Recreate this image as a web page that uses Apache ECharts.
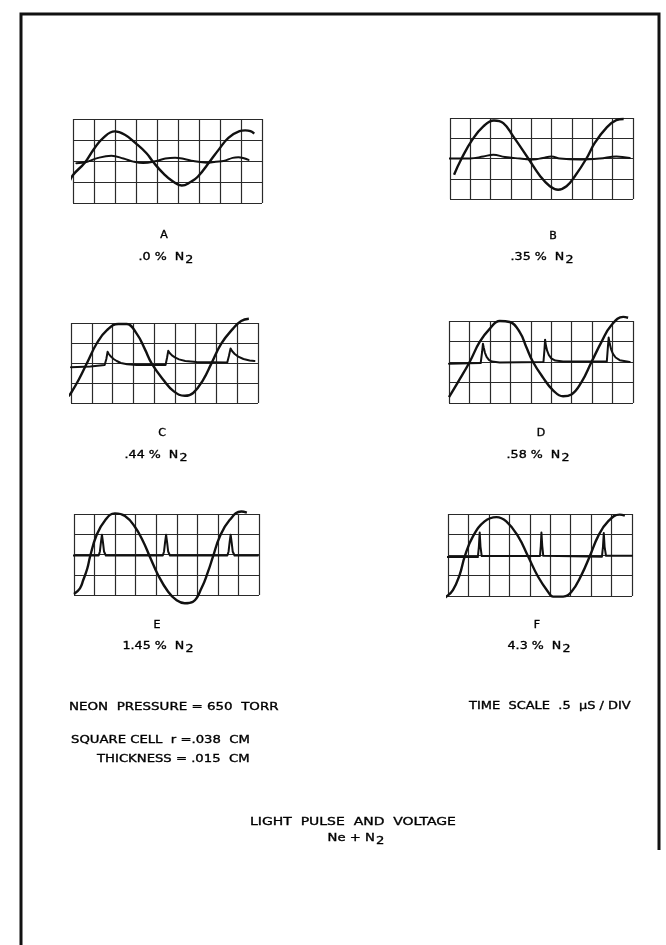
<!DOCTYPE html>
<html><head><meta charset="utf-8">
<script src="https://cdn.jsdelivr.net/npm/echarts@6/dist/echarts.min.js"></script>
<style>html,body{margin:0;padding:0;background:#fff}#c{width:666px;height:945px}</style>
</head><body><div id="c"></div>
<script>
// Panel identifiers and gas concentrations
const panelLetters = ['A','B','C','D','E','F'];
const panelGas = ['.0 %', '.35 %', '.44 %', '.58 %', '1.45 %', '4.3 %'];

// Voltage traces (x in divisions 0..9, y in divisions -2..2)
const voltA = [[-0.19,-1.04],[0,-0.67],[0.56,-0.08],[0.99,0.56],[1.43,1.09],[1.99,1.41],[2.47,1.25],[2.98,0.85],[3.5,0.37],[3.82,-0.05],[4.3,-0.59],[4.78,-0.99],[5.18,-1.17],[5.6,-1.0],[5.94,-0.75],[6.53,0],[6.93,0.53],[7.4,1.1],[7.93,1.42],[8.2,1.46],[8.45,1.42],[8.63,1.3]];
const lightA = [[0.16,-0.11],[0.64,-0.05],[1.2,0.15],[1.83,0.25],[2.4,0.12],[2.87,-0.03],[3.34,-0.1],[3.98,0],[4.4,0.12],[4.86,0.16],[5.3,0.1],[5.73,0],[6.37,-0.08],[6.8,-0.03],[7.17,0],[7.6,0.15],[7.88,0.18],[8.36,0.05]];

const voltB = [[0.2,-0.8],[0.57,0],[1.1,0.93],[1.64,1.59],[2.16,1.88],[2.62,1.75],[3.11,1.09],[3.85,0],[4.42,-0.85],[4.91,-1.37],[5.32,-1.54],[5.73,-1.37],[6.14,-0.88],[6.71,0],[7.12,0.77],[7.69,1.51],[8.18,1.89],[8.54,1.95]];
const lightB = [[-0.16,0],[0.98,0],[1.64,0.1],[2.13,0.19],[2.7,0.07],[3.44,0],[4.09,-0.05],[4.58,0.03],[4.99,0.1],[5.4,0],[6.38,-0.05],[7.37,0],[8.18,0.1],[8.84,0.02]];

const voltC = [[-0.16,-1.7],[0,-1.5],[0.37,-0.84],[0.77,0],[1.25,1.0],[1.73,1.64],[2.28,1.95],[2.68,1.95],[3.16,1.47],[3.56,0.68],[3.88,-0.02],[4.44,-0.84],[4.95,-1.42],[5.48,-1.64],[5.88,-1.5],[6.36,-0.84],[6.76,-0.02],[7.24,0.98],[7.8,1.72],[8.19,2.1],[8.56,2.21]];
const lightC = [[0,-0.21],[0.93,-0.18],[1.62,-0.1],[1.7,0.2],[1.76,0.56],[1.82,0.45],[1.92,0.32],[2.05,0.2],[2.2,0.1],[2.4,0.0],[2.7,-0.06],[3.16,-0.1],[4.55,-0.1],[4.62,0.25],[4.68,0.61],[4.75,0.5],[4.86,0.38],[5.0,0.28],[5.2,0.18],[5.5,0.1],[6.04,0.05],[7.52,0.02],[7.6,0.35],[7.68,0.73],[7.75,0.6],[7.88,0.45],[8.05,0.32],[8.3,0.2],[8.6,0.13],[8.83,0.1]];

const voltD = [[0,-1.71],[0.44,-0.98],[1.01,0],[1.5,0.98],[2.0,1.63],[2.48,2.0],[2.97,1.95],[3.46,1.46],[3.78,0.73],[4.11,0],[4.6,-0.76],[5.09,-1.38],[5.58,-1.67],[5.99,-1.58],[6.48,-0.98],[6.97,0],[7.46,0.98],[7.94,1.79],[8.52,2.2],[8.76,2.16]];
const lightD = [[0,-0.08],[1.55,-0.05],[1.62,0.5],[1.66,0.89],[1.7,0.7],[1.76,0.45],[1.84,0.25],[1.95,0.1],[2.1,0.02],[2.48,-0.02],[4.62,0],[4.67,0.6],[4.7,1.09],[4.74,0.8],[4.8,0.55],[4.88,0.35],[5.0,0.18],[5.2,0.07],[5.58,0.02],[7.72,0.03],[7.77,0.7],[7.81,1.19],[7.86,0.9],[7.93,0.62],[8.02,0.4],[8.15,0.22],[8.35,0.09],[8.84,0]];

const voltE = [[0,-1.95],[0.29,-1.67],[0.45,-1.26],[0.65,-0.68],[0.78,-0.11],[1.1,0.96],[1.5,1.67],[1.99,2.03],[2.48,1.9],[2.96,1.37],[3.37,0.63],[3.69,-0.11],[4.09,-1.01],[4.58,-1.84],[4.98,-2.25],[5.39,-2.41],[5.79,-2.33],[6.2,-1.67],[6.52,-0.85],[6.76,-0.11],[7.09,0.88],[7.57,1.7],[8.14,2.12],[8.41,2.07]];
const lightE = [[-0.92,-0.05],[1.2,-0.05],[1.26,0.15],[1.31,0.6],[1.36,0.98],[1.41,0.6],[1.46,0.15],[1.55,-0.05],[4.32,-0.05],[4.38,0.15],[4.43,0.6],[4.48,0.98],[4.53,0.6],[4.58,0.15],[4.67,-0.05],[7.46,-0.05],[7.52,0.15],[7.57,0.6],[7.62,0.98],[7.67,0.6],[7.72,0.15],[7.81,-0.05],[8.95,-0.05]];

const voltF = [[-0.38,-2.2],[-0.08,-2.03],[0.24,-1.71],[0.57,-0.97],[0.82,-0.07],[1.22,0.91],[1.79,1.64],[2.37,1.85],[2.85,1.64],[3.43,0.91],[3.92,-0.07],[4.4,-1.05],[4.89,-1.79],[5.14,-2.03],[5.63,-2.03],[6.04,-1.79],[6.53,-0.97],[6.93,-0.07],[7.34,0.91],[7.83,1.64],[8.4,1.97],[8.65,1.92]];
const lightF = [[-0.82,-0.1],[1.46,-0.1],[1.51,0.4],[1.55,1.1],[1.59,0.4],[1.65,-0.05],[4.5,-0.05],[4.54,0.45],[4.57,1.1],[4.61,0.45],[4.66,-0.04],[7.53,-0.08],[7.58,0.4],[7.62,1.07],[7.66,0.4],[7.73,-0.04],[9.0,-0.04]];

const voltages = [voltA, voltB, voltC, voltD, voltE, voltF];
const lights = [lightA, lightB, lightC, lightD, lightE, lightF];

// Axis ranges (grid divisions)
const xDivs = [0, 9];
const yDivs = [-2, 2];

// Layout
const boxes = [
  {left:73, top:119, width:189, height:84},
  {left:450, top:118, width:183, height:81},
  {left:71, top:323, width:187, height:80},
  {left:449, top:321, width:184, height:82},
  {left:74, top:514, width:185, height:81},
  {left:448, top:514, width:184, height:82}
];
const letterPos = [[164,235],[553,236],[162,433],[541,433],[157,625],[537,625]];
const gasPos = [[166,257],[542,257],[156,455],[538,455],[158,646],[539,646]];

const FONT = 'DejaVu Sans';
const INK = '#111';

const grids = [], xAxes = [], yAxes = [], series = [];
boxes.forEach((b, i) => {
  grids.push({left:b.left, top:b.top, width:b.width, height:b.height, show:false, containLabel:false});
  const sl = {show:true, showMinLine:true, showMaxLine:true, lineStyle:{color:'#2a2a2a', width:1.2}};
  xAxes.push({type:'value', gridIndex:i, min:xDivs[0], max:xDivs[1], interval:1,
    axisLine:{show:false}, axisTick:{show:false}, axisLabel:{show:false}, splitLine:sl});
  yAxes.push({type:'value', gridIndex:i, min:yDivs[0], max:yDivs[1], interval:1,
    axisLine:{show:false}, axisTick:{show:false}, axisLabel:{show:false}, splitLine:sl});
  series.push({type:'line', xAxisIndex:i, yAxisIndex:i, data:voltages[i], smooth:0.45,
    showSymbol:false, clip:false, lineStyle:{color:INK, width:2.4}, silent:true, animation:false});
  series.push({type:'line', xAxisIndex:i, yAxisIndex:i, data:lights[i], smooth:i<2?0.4:false,
    showSymbol:false, clip:false, lineStyle:{color:INK, width:2, join:'round', cap:'round'}, silent:true, animation:false});
});

function txt(s, x, y, align, size, sx, rich) {
  const st = {text:s, x:0, y:0, fill:'#000', stroke:'#000', lineWidth:0.35,
    font:size+'px "'+FONT+'"', fontFamily:FONT, fontSize:size,
    textAlign:align, textVerticalAlign:'middle', verticalAlign:'middle', align:align};
  if (rich) st.rich = rich;
  return {type:'text', x:x, y:y, scaleX:sx, style:st, silent:true};
}

const subRich = {
  m:{fontFamily:FONT, fontSize:11, fill:'#000', stroke:'#000', lineWidth:0.35},
  s:{fontFamily:FONT, fontSize:11, fill:'#000', stroke:'#000', lineWidth:0.35, padding:[6,0,0,1]}
};

const graphics = [
  {type:'polyline', shape:{points:[[21,945],[21,14],[659,14],[659,850]]}, style:{stroke:'#111', lineWidth:3, fill:null}, silent:true}
];
panelLetters.forEach((L, i) => {
  graphics.push(txt(L, letterPos[i][0], letterPos[i][1], 'center', 10, 1.1));
  graphics.push(txt('{m|' + panelGas[i] + '  N}{s|2}', gasPos[i][0], gasPos[i][1], 'center', 11, 1.15, subRich));
});
graphics.push(txt('NEON  PRESSURE = 650  TORR', 69, 707, 'left', 11, 1.22));
graphics.push(txt('SQUARE CELL  r =.038  CM', 71, 740, 'left', 11, 1.2));
graphics.push(txt('THICKNESS = .015  CM', 97, 759, 'left', 11, 1.2));
graphics.push(txt('TIME  SCALE  .5  μS / DIV', 469, 706, 'left', 11, 1.18));
graphics.push(txt('LIGHT  PULSE  AND  VOLTAGE', 250, 822, 'left', 11, 1.27));
graphics.push(txt('{m|Ne + N}{s|2}', 356, 838, 'center', 11, 1.2, subRich));

const chart = echarts.init(document.getElementById('c'), null, {renderer:'canvas'});
chart.setOption({
  animation:false,
  backgroundColor:'#ffffff',
  grid:grids, xAxis:xAxes, yAxis:yAxes, series:series,
  graphic:graphics
});
</script></body></html>
